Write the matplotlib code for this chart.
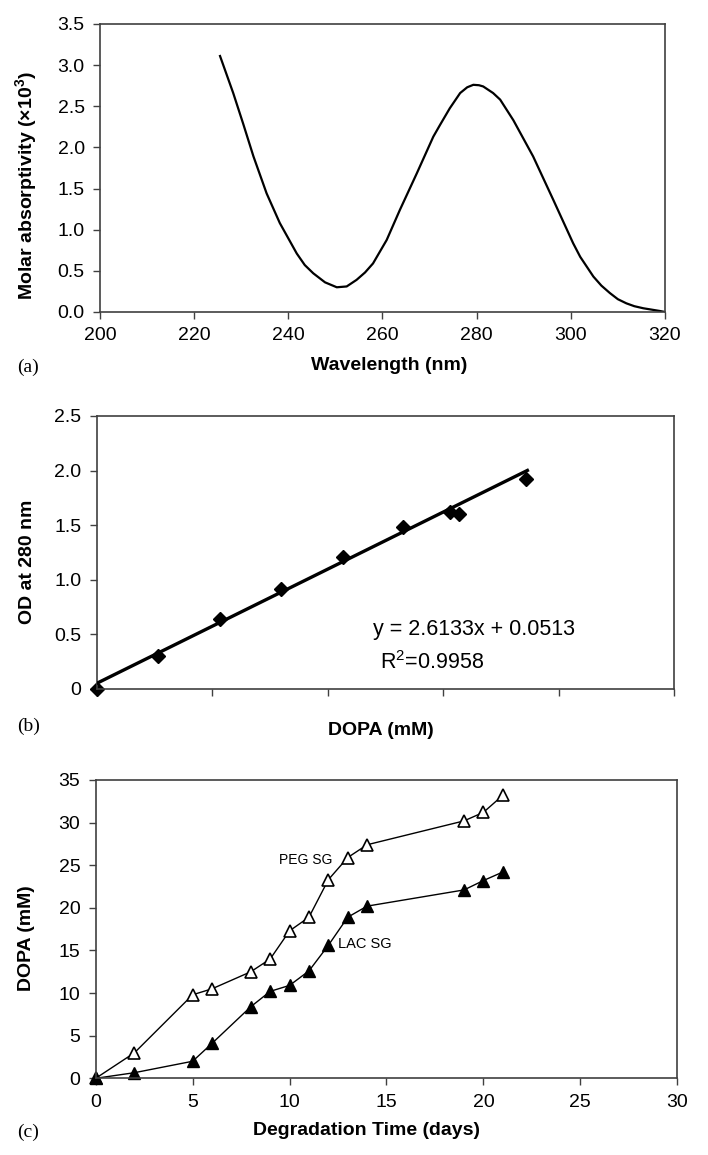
import matplotlib
matplotlib.use("Agg")
import matplotlib.pyplot as plt

plt.rcParams["font.family"] = ["Liberation Sans", "DejaVu Sans"]
plt.rcParams["mathtext.fontset"] = "custom"
plt.rcParams["mathtext.rm"] = "Liberation Sans"
plt.rcParams["mathtext.bf"] = "Liberation Sans:bold"

# Panel (a) - absorption spectrum

wavelength = [225.5, 228.3, 230.4, 232.6, 235.4, 238.2, 240.0, 241.8, 243.5,
              245.3, 247.8, 250.3, 252.4, 254.5, 256.3, 258.0, 260.9, 263.7,
              267.3, 270.8, 272.2, 274.3, 276.5, 278.0, 279.3, 280.5, 281.4,
              283.5, 285.0, 287.8, 292.0, 296.3, 300.5, 302.0, 304.8, 306.5,
              308.3, 310.0, 311.8, 313.5, 315.4, 317.0, 318.9, 320.0]
absorptivity = [3.11, 2.66, 2.29, 1.89, 1.44, 1.08, 0.895, 0.71, 0.57,
                0.47, 0.36, 0.30, 0.31, 0.39, 0.48, 0.59, 0.875, 1.24,
                1.685, 2.13, 2.27, 2.475, 2.66, 2.73, 2.76, 2.755, 2.74,
                2.66, 2.58, 2.33, 1.89, 1.36, 0.835, 0.67, 0.43, 0.32,
                0.23, 0.155, 0.105, 0.07, 0.045, 0.03, 0.012, 0.0]

# Panel (b) - calibration

dopa_conc = [0.0, 0.107, 0.2136, 0.319, 0.427, 0.531, 0.612, 0.628, 0.744]
od_280 = [0.0, 0.302, 0.638, 0.916, 1.211, 1.481, 1.62, 1.60, 1.922]
slope = 2.6133
intercept = 0.0513
fit_x = [0.0, 0.746]

# Panel (c) - degradation

days_peg = [0, 2, 5, 6, 8, 9, 10, 11, 12, 13, 14, 19, 20, 21]
dopa_peg = [0, 3.0, 9.8, 10.5, 12.5, 14.0, 17.3, 18.9, 23.3, 25.9, 27.4, 30.2, 31.2, 33.2]
days_lac = [0, 2, 5, 6, 8, 9, 10, 11, 12, 13, 14, 19, 20, 21]
dopa_lac = [0, 0.66, 2.0, 4.1, 8.4, 10.2, 10.9, 12.6, 15.6, 18.9, 20.2, 22.1, 23.2, 24.2]

spine_col = "#404040"
tick_fs = 14
label_fs = 14


def style_axes(ax):
    for s in ax.spines.values():
        s.set_color(spine_col)
        s.set_linewidth(1.2)
    ax.tick_params(direction="out", length=5, width=1.0, color=spine_col,
                   labelsize=tick_fs, pad=6)


fig = plt.figure(figsize=(7.08, 11.55), dpi=100)

# (a)
ax1 = fig.add_axes([0.1412, 0.7299, 0.798, 0.2494])
ax1.plot(wavelength, absorptivity, color="black", lw=1.6)
ax1.set_xlim(200, 320)
ax1.set_ylim(0, 3.5)
ax1.set_xticks(range(200, 321, 20))
ax1.set_yticks([0, 0.5, 1.0, 1.5, 2.0, 2.5, 3.0, 3.5])
ax1.set_yticklabels(["0.0", "0.5", "1.0", "1.5", "2.0", "2.5", "3.0", "3.5"])
style_axes(ax1)
ax1.set_xlabel("Wavelength (nm)", fontsize=label_fs, fontweight="bold", labelpad=9)
ax1.set_ylabel(r"Molar absorptivity (×10$^{\mathbf{3}}$)", fontsize=label_fs,
               fontweight="bold", labelpad=13)
ax1.xaxis.label.set_x(0.512)
ax1.yaxis.label.set_y(0.44)

# (b)
ax2 = fig.add_axes([0.1366, 0.4035, 0.8154, 0.2364])
ax2.plot(dopa_conc, od_280, linestyle="none", marker="D", markersize=7,
         color="black", zorder=2, clip_on=False)
ax2.plot(fit_x, [slope * v + intercept for v in fit_x], color="black",
         lw=2.4, zorder=3)
ax2.set_xlim(0, 1.0)
ax2.set_ylim(0, 2.5)
ax2.set_xticks([0, 0.2, 0.4, 0.6, 0.8, 1.0])
ax2.set_xticklabels([])
ax2.set_yticks([0, 0.5, 1.0, 1.5, 2.0, 2.5])
ax2.set_yticklabels(["0", "0.5", "1.0", "1.5", "2.0", "2.5"])
style_axes(ax2)
ax2.text(0.479, 0.54, "y = 2.6133x + 0.0513", fontsize=15.5, va="center")
ax2.text(0.491, 0.238, r"R$^{2}$=0.9958", fontsize=15.5, va="center")
ax2.set_xlabel("DOPA (mM)", fontsize=label_fs, fontweight="bold", labelpad=13)
ax2.set_ylabel("OD at 280 nm", fontsize=label_fs, fontweight="bold", labelpad=13)
ax2.xaxis.label.set_x(0.493)
ax2.yaxis.label.set_y(0.465)

# (c)
ax3 = fig.add_axes([0.1352, 0.0664, 0.8214, 0.2583])
ax3.plot(days_peg, dopa_peg, color="black", lw=1.0, marker="^",
         markersize=8, markerfacecolor="white", markeredgecolor="black",
         markeredgewidth=1.2, clip_on=False)
ax3.plot(days_lac, dopa_lac, color="black", lw=1.0, marker="^",
         markersize=8, markerfacecolor="black", markeredgecolor="black",
         clip_on=False)
ax3.set_xlim(0, 30)
ax3.set_ylim(0, 35)
ax3.set_xticks(range(0, 31, 5))
ax3.set_yticks(range(0, 36, 5))
style_axes(ax3)
ax3.text(9.45, 25.6, "PEG SG", fontsize=10, va="center")
ax3.text(12.5, 15.7, "LAC SG", fontsize=10.5, va="center")
ax3.set_xlabel("Degradation Time (days)", fontsize=label_fs, fontweight="bold",
               labelpad=8)
ax3.set_ylabel("DOPA (mM)", fontsize=label_fs, fontweight="bold", labelpad=17)
ax3.xaxis.label.set_x(0.465)
ax3.yaxis.label.set_y(0.47)

# panel letters
for letter, ypix in [("(a)", 367), ("(b)", 726), ("(c)", 1132)]:
    fig.text(17 / 708, 1 - ypix / 1155, letter, fontsize=14,
             family=["Liberation Serif", "DejaVu Serif"], va="center")

plt.savefig("out.png", dpi=100)
plt.close()
